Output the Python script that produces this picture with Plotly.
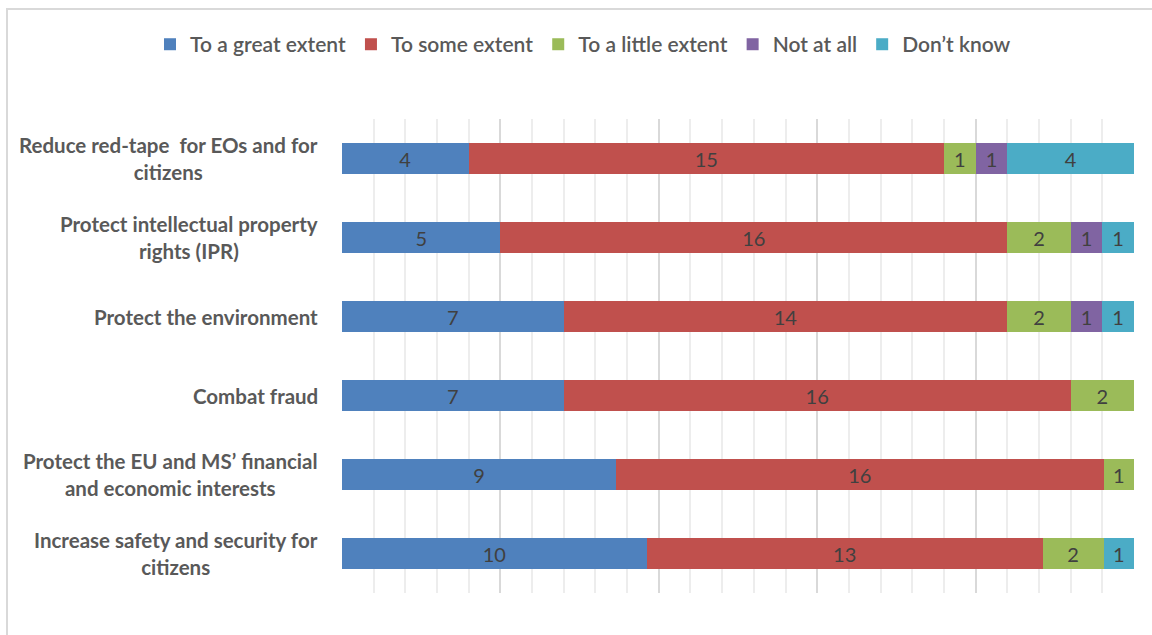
import plotly.graph_objects as go

# Survey question: to what extent does the measure help achieve each objective?
objectives = [
    "Reduce red-tape  for EOs and for<br>citizens",
    "Protect intellectual property<br>rights (IPR)",
    "Protect the environment",
    "Combat fraud",
    "Protect the EU and MS\u2019 financial<br>and economic interests",
    "Increase safety and security for<br>citizens",
]
great_extent = [4, 5, 7, 7, 9, 10]
some_extent = [15, 16, 14, 16, 16, 13]
little_extent = [1, 2, 2, 2, 1, 2]
not_at_all = [1, 1, 1, 0, 0, 0]
dont_know = [4, 1, 1, 0, 0, 1]

series = [
    ("To a great extent", great_extent, "#4F81BD"),
    ("To some extent", some_extent, "#C0504D"),
    ("To a little extent", little_extent, "#9BBB59"),
    ("Not at all", not_at_all, "#8064A2"),
    ("Don\u2019t know", dont_know, "#4BACC6"),
]

LABEL_FONT = "Lato"
TEXT_GREY = "#595959"

fig = go.Figure()
for name, values, color in series:
    fig.add_trace(go.Bar(
        name=name,
        y=objectives,
        x=values,
        orientation="h",
        marker=dict(color=color, line=dict(width=0)),
        text=[str(v) if v else "" for v in values],
        textposition="inside",
        insidetextanchor="middle",
        textangle=0,
        textfont=dict(family=LABEL_FONT, size=20, color="#404040"),
        hoverinfo="name+x",
    ))

# Category labels drawn as centred multi-line blocks to the left of the bars
for label in objectives:
    fig.add_annotation(
        x=0, xref="paper", y=label, yref="y",
        text=label, showarrow=False,
        xanchor="right", yanchor="middle", xshift=-22,
        align="center",
        font=dict(family=LABEL_FONT, size=20.5, color=TEXT_GREY, weight="bold"),
    )

# Light chart frame
fig.add_shape(
    type="rect", xref="paper", yref="paper",
    x0=-0.423, x1=1.04, y0=-0.12, y1=1.232,
    line=dict(color="#D9D9D9", width=2), fillcolor="rgba(0,0,0,0)", layer="below",
)

fig.update_layout(
    barmode="stack",
    barnorm="percent",
    bargap=0.6,
    width=1152, height=635,
    margin=dict(l=342, r=18, t=119, b=42),
    paper_bgcolor="white",
    plot_bgcolor="white",
    showlegend=True,
    legend=dict(
        orientation="h",
        x=-0.2424, xanchor="left",
        y=1.157, yanchor="middle",
        font=dict(family=LABEL_FONT, size=21, color=TEXT_GREY, weight=600),
        traceorder="normal",
        itemwidth=30,
        tracegroupgap=0,
    ),
    xaxis=dict(
        range=[0, 100],
        dtick=20,
        showticklabels=False,
        showgrid=True,
        gridcolor="#D9D9D9",
        gridwidth=1.5,
        zeroline=False,
        showline=False,
        ticks="",
        minor=dict(dtick=4, showgrid=True, gridcolor="#EDEDED", gridwidth=1.5, ticks=""),
        fixedrange=True,
    ),
    yaxis=dict(
        categoryorder="array",
        categoryarray=objectives,
        autorange="reversed",
        showticklabels=False,
        showgrid=False,
        zeroline=False,
        fixedrange=True,
    ),
    uniformtext=dict(mode="show", minsize=10),
)

fig.write_html("out.html")
